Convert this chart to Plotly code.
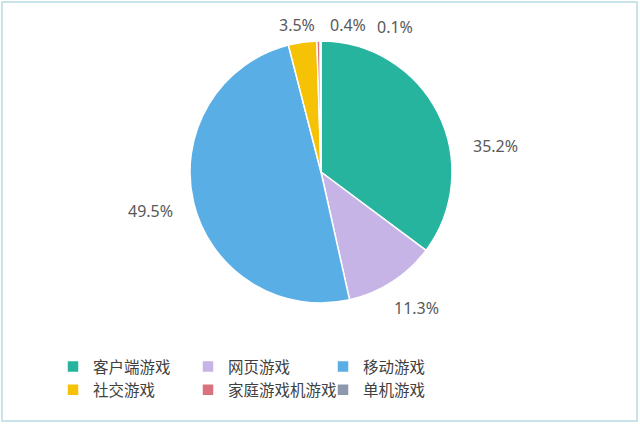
import plotly.graph_objects as go

# 各类游戏收入占比（%）
categories = ["客户端游戏", "网页游戏", "移动游戏", "社交游戏", "家庭游戏机游戏", "单机游戏"]
shares = [35.2, 11.3, 49.5, 3.5, 0.4, 0.1]
colors = ["#27B49E", "#C6B4E6", "#5AAEE6", "#F5C205", "#D9727C", "#8D97AE"]

# 数据标签的摆放位置（像素，左上角为原点），与原图一致
label_px = [(495, 146), (416, 308), (150, 211), (297, 25), (348, 25), (395, 27)]

W, H = 640, 424
ML, MR = 53, 140
PW = W - ML - MR

def px_x(x):
    return (x - ML) / PW

def px_y(y):
    return 1 - y / H

label_font = dict(family="Noto Sans, sans-serif", size=16, color="#595959")

fig = go.Figure(go.Pie(
    labels=categories,
    values=shares,
    sort=False,
    direction="clockwise",
    rotation=0,
    marker=dict(colors=colors, line=dict(color="white", width=1.5)),
    textinfo="none",
    hoverinfo="label+percent",
    domain=dict(x=[px_x(321 - 140), px_x(321 + 140)], y=[px_y(303), px_y(41)]),
))

# 百分比标签
for v, (lx, ly) in zip(shares, label_px):
    fig.add_annotation(
        xref="paper", yref="paper",
        x=px_x(lx), y=px_y(ly),
        xanchor="center", yanchor="middle",
        text=f"{v:.1f}%", showarrow=False,
        font=label_font,
    )

# 外框
fig.add_shape(type="rect", xref="paper", yref="paper",
              x0=px_x(2), x1=px_x(637),
              y0=px_y(421), y1=px_y(2),
              line=dict(color="#C9E4E8", width=2))

fig.update_layout(
    width=W, height=H,
    margin=dict(l=ML, r=MR, t=0, b=0),
    paper_bgcolor="white",
    plot_bgcolor="white",
    showlegend=True,
    legend=dict(
        orientation="h",
        x=0, xanchor="left",
        y=px_y(350), yanchor="top",
        entrywidth=90, entrywidthmode="pixels",
        font=dict(family="Noto Sans CJK SC", size=15.5, color="#404040"),
        traceorder="normal",
    ),
)

# 去掉浏览器默认的 body 边距
fig.write_html("out.html", config={"displayModeBar": False},
               post_script="document.body.style.margin='0';")
